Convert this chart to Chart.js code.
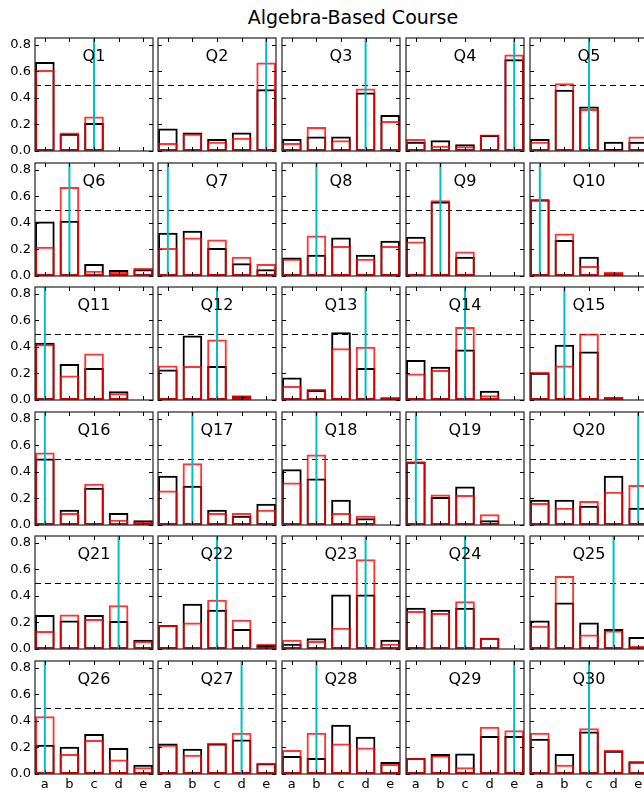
<!DOCTYPE html>
<html>
<head>
<meta charset="utf-8">
<script src="https://cdn.jsdelivr.net/npm/chart.js@4.4.1/dist/chart.umd.min.js"></script>
<style>
    html, body { margin: 0; padding: 0; width: 644px; height: 794px; overflow: hidden; background: #fff; }
    #title {
        position: absolute; left: 0; top: 8px; width: 706px; text-align: center;
        font: 19px "DejaVu Sans", sans-serif; line-height: 19px; color: #000;
    }
    canvas { position: absolute; }
</style>
</head>
<body>
<div id="title">Algebra-Based Course</div>
<div id="grid"></div>
<script>
// answer choices (x categories) and y ticks
const answers = ["a", "b", "c", "d", "e"];
const yTicks = [0, 0.2, 0.4, 0.6, 0.8];

const questions = [
    "Q1", "Q2", "Q3", "Q4", "Q5", "Q6", "Q7", "Q8", "Q9", "Q10",
    "Q11", "Q12", "Q13", "Q14", "Q15", "Q16", "Q17", "Q18", "Q19", "Q20",
    "Q21", "Q22", "Q23", "Q24", "Q25", "Q26", "Q27", "Q28", "Q29", "Q30"
];

// correct answer per question (cyan line)
const correct = [
    "c", "e", "d", "e", "c", "b", "a", "b", "b", "a",
    "a", "c", "d", "c", "b", "a", "b", "b", "a", "e",
    "d", "c", "d", "c", "d", "a", "d", "b", "e", "c"
];

// fraction choosing each answer, black outlines
const blackSeries = [
    [0.67, 0.13, 0.21, 0, 0],
    [0.17, 0.14, 0.09, 0.14, 0.465],
    [0.09, 0.11, 0.11, 0.44, 0.27],
    [0.07, 0.08, 0.05, 0.12, 0.69],
    [0.09, 0.46, 0.335, 0.07, 0.07],
    [0.41, 0.415, 0.09, 0.045, 0.05],
    [0.325, 0.34, 0.21, 0.095, 0.05],
    [0.14, 0.16, 0.29, 0.16, 0.265],
    [0.295, 0.56, 0.145, 0, 0],
    [0.575, 0.27, 0.145, 0.02, 0],
    [0.43, 0.27, 0.24, 0.065, 0],
    [0.23, 0.485, 0.255, 0.03, 0],
    [0.17, 0.075, 0.51, 0.24, 0.015],
    [0.30, 0.25, 0.38, 0.07, 0],
    [0.205, 0.415, 0.365, 0.02, 0],
    [0.50, 0.115, 0.28, 0.09, 0.035],
    [0.37, 0.295, 0.115, 0.07, 0.16],
    [0.42, 0.35, 0.19, 0.05, 0],
    [0.475, 0.21, 0.29, 0.035, 0],
    [0.19, 0.19, 0.145, 0.37, 0.13],
    [0.255, 0.215, 0.255, 0.21, 0.07],
    [0.18, 0.34, 0.295, 0.15, 0.03],
    [0.04, 0.08, 0.41, 0.41, 0.07],
    [0.31, 0.295, 0.31, 0.085, 0],
    [0.215, 0.35, 0.20, 0.15, 0.09],
    [0.22, 0.205, 0.30, 0.195, 0.07],
    [0.23, 0.19, 0.23, 0.26, 0.08],
    [0.135, 0.12, 0.37, 0.28, 0.09],
    [0.12, 0.15, 0.155, 0.285, 0.285],
    [0.265, 0.15, 0.32, 0.175, 0.095]
];

// fraction choosing each answer, red outlines
const redSeries = [
    [0.61, 0.14, 0.26, 0, 0],
    [0.06, 0.13, 0.07, 0.10, 0.665],
    [0.06, 0.18, 0.08, 0.47, 0.225],
    [0.09, 0.04, 0.035, 0.125, 0.725],
    [0.07, 0.51, 0.315, 0.01, 0.11],
    [0.22, 0.67, 0.04, 0.03, 0.06],
    [0.21, 0.29, 0.275, 0.145, 0.09],
    [0.13, 0.305, 0.225, 0.13, 0.225],
    [0.26, 0.57, 0.185, 0, 0],
    [0.58, 0.32, 0.075, 0.03, 0],
    [0.42, 0.185, 0.35, 0.05, 0],
    [0.26, 0.255, 0.455, 0.035, 0],
    [0.105, 0.085, 0.39, 0.40, 0.025],
    [0.20, 0.225, 0.55, 0.035, 0],
    [0.21, 0.26, 0.50, 0.025, 0],
    [0.545, 0.09, 0.31, 0.04, 0.025],
    [0.26, 0.465, 0.09, 0.09, 0.115],
    [0.32, 0.53, 0.09, 0.07, 0],
    [0.48, 0.23, 0.225, 0.08, 0],
    [0.165, 0.13, 0.18, 0.25, 0.30],
    [0.135, 0.26, 0.225, 0.33, 0.06],
    [0.18, 0.20, 0.37, 0.22, 0.04],
    [0.07, 0.06, 0.16, 0.675, 0.04],
    [0.285, 0.27, 0.36, 0.085, 0],
    [0.175, 0.55, 0.11, 0.14, 0.025],
    [0.435, 0.15, 0.255, 0.11, 0.05],
    [0.22, 0.145, 0.235, 0.31, 0.085],
    [0.18, 0.31, 0.23, 0.20, 0.075],
    [0.12, 0.14, 0.05, 0.355, 0.33],
    [0.31, 0.07, 0.345, 0.18, 0.09]
];

// layout of the 6x5 grid
const NCOL = 5, NROW = 6;
const PW = 118, PH = 113;     // plot area size
const PAD = 10;               // canvas margin around plot area
const PAGE_H = 794;
const colLeft = (c) => Math.round(34.5 + c * 123.8);
const rowTop = (r) => Math.round(38 + r * 124.5);

const FONT = '"DejaVu Sans", sans-serif';

// dashed 0.5 line, cyan correct-answer line, frame, inward ticks, Q label
const panelDecor = {
    id: "panelDecor",
    beforeDatasetsDraw(chart) {
        const { ctx, chartArea: a, scales: { y } } = chart;
        const yy = Math.round(y.getPixelForValue(0.5)) + 0.5;
        ctx.save();
        ctx.strokeStyle = "#000";
        ctx.lineWidth = 1;
        ctx.setLineDash([6, 4]);
        ctx.beginPath();
        ctx.moveTo(a.left, yy);
        ctx.lineTo(a.right, yy);
        ctx.stroke();
        ctx.restore();
    },
    afterDatasetsDraw(chart, args, opts) {
        const { ctx, chartArea: a, scales: { x, y } } = chart;
        ctx.save();
        // correct answer
        const cx = x.getPixelForValue(answers.indexOf(opts.correct));
        ctx.strokeStyle = "#00BFBF";
        ctx.lineWidth = 2;
        ctx.beginPath();
        ctx.moveTo(cx, a.top);
        ctx.lineTo(cx, a.bottom);
        ctx.stroke();

        // frame
        ctx.strokeStyle = "#333";
        ctx.lineWidth = 1.3;
        ctx.strokeRect(a.left, a.top, a.right - a.left, a.bottom - a.top);

        // inward ticks on all sides
        ctx.strokeStyle = "#000";
        ctx.lineWidth = 1;
        ctx.beginPath();
        yTicks.forEach((v) => {
            const py = Math.round(y.getPixelForValue(v)) + 0.5;
            ctx.moveTo(a.left, py); ctx.lineTo(a.left + 4, py);
            ctx.moveTo(a.right, py); ctx.lineTo(a.right - 4, py);
        });
        answers.forEach((_, i) => {
            const px = Math.round(x.getPixelForValue(i)) + 0.5;
            ctx.moveTo(px, a.top); ctx.lineTo(px, a.top + 4);
            ctx.moveTo(px, a.bottom); ctx.lineTo(px, a.bottom - 4);
        });
        ctx.stroke();

        // question label
        ctx.fillStyle = "#000";
        ctx.font = "16px " + FONT;
        ctx.textAlign = "center";
        ctx.textBaseline = "alphabetic";
        ctx.fillText(opts.label, (a.left + a.right) / 2, a.top + 23);
        ctx.restore();
    }
};

const grid = document.getElementById("grid");

questions.forEach((q, i) => {
    const r = Math.floor(i / NCOL), c = i % NCOL;
    const isLeft = c === 0, isBottom = r === NROW - 1;
    const left = colLeft(c), top = rowTop(r);

    const cvLeft = isLeft ? 0 : left - PAD;
    const cvTop = top - PAD;
    const cvW = (left + PW + PAD) - cvLeft;
    const cvH = isBottom ? PAGE_H - cvTop : PH + 2 * PAD;
    const xAxisH = PAGE_H - (top + PH);

    const canvas = document.createElement("canvas");
    canvas.width = cvW;
    canvas.height = cvH;
    canvas.style.left = cvLeft + "px";
    canvas.style.top = cvTop + "px";
    canvas.style.width = cvW + "px";
    canvas.style.height = cvH + "px";
    grid.appendChild(canvas);

    const toPoints = (vals) => vals.map((v, k) => ({ x: k, y: v }));

    new Chart(canvas.getContext("2d"), {
        type: "bar",
        data: {
            datasets: [
                {
                    label: "red",
                    data: toPoints(redSeries[i]),
                    borderColor: "rgba(255, 0, 0, 0.8)",
                    backgroundColor: "rgba(0, 0, 0, 0)",
                    borderWidth: 2,
                    borderSkipped: false,
                    grouped: false,
                    barPercentage: 0.8,
                    categoryPercentage: 1.0
                },
                {
                    label: "black",
                    data: toPoints(blackSeries[i]),
                    borderColor: "#000",
                    backgroundColor: "rgba(0, 0, 0, 0)",
                    borderWidth: 2,
                    borderSkipped: false,
                    grouped: false,
                    barPercentage: 0.8,
                    categoryPercentage: 1.0
                }
            ]
        },
        options: {
            responsive: false,
            animation: false,
            devicePixelRatio: 1,
            layout: {
                padding: {
                    left: isLeft ? 0 : PAD,
                    right: PAD,
                    top: PAD,
                    bottom: isBottom ? 0 : PAD
                }
            },
            plugins: {
                legend: { display: false },
                tooltip: { enabled: false },
                panelDecor: { correct: correct[i], label: q }
            },
            scales: {
                x: {
                    type: "linear",
                    offset: false,
                    min: -0.4,
                    max: 4.4,
                    display: isBottom,
                    grid: { display: false, drawTicks: false, offset: false },
                    border: { display: false },
                    afterBuildTicks: (axis) => {
                        axis.ticks = answers.map((_, k) => ({ value: k }));
                    },
                    afterFit: (axis) => {
                        if (!isBottom) return;
                        axis.height = xAxisH;
                        axis.paddingLeft = 0;
                        axis.paddingRight = 0;
                    },
                    ticks: {
                        autoSkip: false,
                        maxRotation: 0,
                        padding: 3,
                        color: "#000",
                        font: { family: FONT, size: 13 },
                        callback: (v) => answers[v]
                    }
                },
                y: {
                    min: 0,
                    max: 0.85,
                    display: isLeft,
                    grid: { display: false, drawTicks: false },
                    border: { display: false },
                    afterBuildTicks: (axis) => {
                        axis.ticks = yTicks.map((v) => ({ value: v }));
                    },
                    afterFit: (axis) => {
                        if (!isLeft) return;
                        axis.width = left;
                        axis.paddingTop = 0;
                        axis.paddingBottom = 0;
                    },
                    ticks: {
                        padding: 4,
                        color: "#000",
                        font: { family: FONT, size: 13 },
                        callback: (v) => v.toFixed(1)
                    }
                }
            }
        },
        plugins: [panelDecor]
    });
});
</script>
</body>
</html>
